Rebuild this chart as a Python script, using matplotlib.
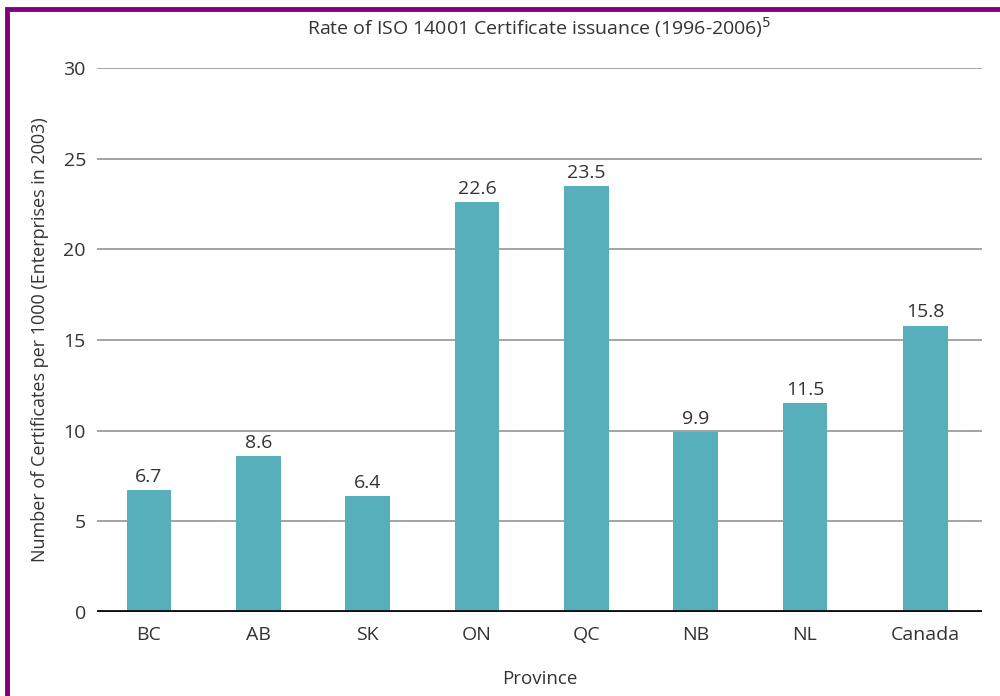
import matplotlib.pyplot as plt
from matplotlib.patches import Rectangle

provinces = ["BC", "AB", "SK", "ON", "QC", "NB", "NL", "Canada"]
rates = [6.7, 8.6, 6.4, 22.6, 23.5, 9.9, 11.5, 15.8]
yticks = [0, 5, 10, 15, 20, 25, 30]

BAR_COLOR = "#58afbc"
TXT = "#333333"
plt.rcParams["font.family"] = ["Open Sans", "DejaVu Sans"]

fig = plt.figure(figsize=(10, 6.96), dpi=100)
ax = fig.add_axes([0.097, 0.121, 0.885, 0.781])

# Canada sits a little further out than the provinces
xpos = [i for i in range(len(provinces) - 1)] + [len(provinces) - 1 + 0.1]
bars = ax.bar(xpos, rates, width=0.41, color=BAR_COLOR, zorder=3)
for b, v in zip(bars, rates):
    ax.annotate(f"{v}", xy=(b.get_x() + b.get_width() / 2, v), xytext=(0, 3),
                textcoords="offset points", ha="center", va="bottom",
                fontsize=14, color=TXT)

ax.set_xlim(-0.476, 7.62)
ax.set_ylim(0, 30)
ax.set_yticks(yticks)
ax.set_xticks(xpos)
ax.set_xticklabels(provinces)
ax.grid(axis="y", color="#959595", linewidth=1.2, zorder=0)
ax.axhline(0, color="#111111", linewidth=3.5, zorder=4)
for s in ax.spines.values():
    s.set_visible(False)
ax.tick_params(axis="both", length=0, labelsize=14, colors=TXT)
ax.tick_params(axis="y", pad=8)
ax.tick_params(axis="x", pad=10)

ax.set_title("Rate of ISO 14001 Certificate issuance (1996-2006)$^5$",
             fontsize=14, color=TXT, pad=24)
ax.set_xlabel("Province", fontsize=13.5, color=TXT, labelpad=19)
ax.set_ylabel("Number of Certificates per 1000 (Enterprises in 2003)",
              fontsize=13, color=TXT, labelpad=10)

fig.patches.append(Rectangle((0.007, -0.05), 1.1, 1.037, transform=fig.transFigure,
                             fill=False, edgecolor="#800080", linewidth=3.5))

plt.savefig("out.png", dpi=100)
